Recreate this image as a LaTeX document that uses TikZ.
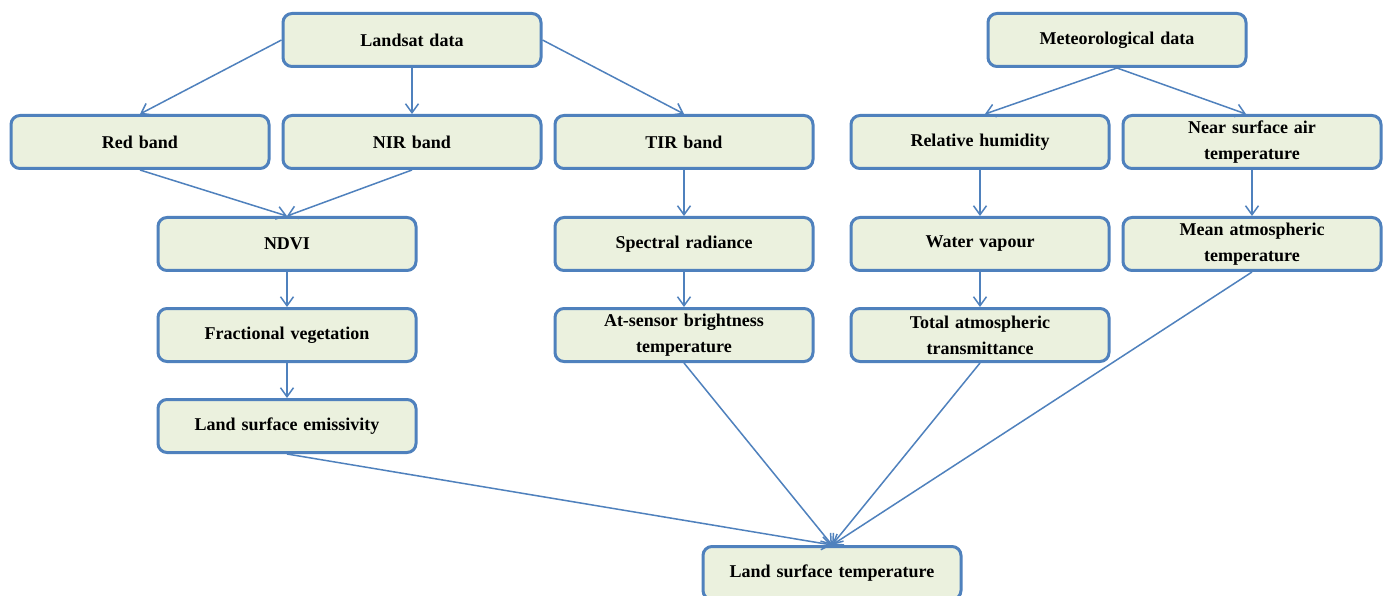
\documentclass[tikz,border=0pt]{standalone}
\usepackage{fontspec}
\setmainfont{Liberation Serif}
\usetikzlibrary{arrows.meta}
\definecolor{bordc}{HTML}{4F81BD}
\definecolor{boxfill}{HTML}{EBF1DE}
\tikzset{
  procbox/.style={draw=bordc, fill=boxfill, line width=3pt, rounded corners=9pt,
    minimum width=258pt, minimum height=53pt, inner sep=2pt, align=center,
    font=\fontsize{18}{26}\selectfont\bfseries, text width=250pt},
  flow/.style={draw=bordc, line width=1.5pt, -{Straight Barb[length=9pt,width=13pt,line width=1.5pt]}}
}
\begin{document}
\begin{tikzpicture}[x=1pt,y=-1pt]
\clip (0,0) rectangle (1390,596);
\fill[white] (0,0) rectangle (1390,596);
\node[procbox] (landsat) at (412,40) {Landsat data};
\node[procbox] (meteo) at (1117,40) {Meteorological data};
\node[procbox] (red) at (140,142) {Red band};
\node[procbox] (nir) at (412,142) {NIR band};
\node[procbox] (tir) at (684,142) {TIR band};
\node[procbox] (rh) at (980,142) {Relative humidity};
\node[procbox] (nsat) at (1252,142) {Near surface air\\temperature};
\node[procbox] (ndvi) at (287,244) {NDVI};
\node[procbox] (spec) at (684,244) {Spectral radiance};
\node[procbox] (wv) at (980,244) {Water vapour};
\node[procbox] (mat) at (1252,244) {Mean atmospheric\\temperature};
\node[procbox] (fv) at (287,335) {Fractional vegetation};
\node[procbox] (abt) at (684,335) {At-sensor brightness\\temperature};
\node[procbox] (tat) at (980,335) {Total atmospheric\\transmittance};
\node[procbox] (lse) at (287,426) {Land surface emissivity};
\node[procbox] (lst) at (832,573) {Land surface temperature};

\draw[flow] (landsat.west) -- (red.north);
\draw[flow] (landsat.south) -- (nir.north);
\draw[flow] (landsat.east) -- (tir.north);
\draw[flow] (meteo.south) -- ([xshift=5pt]rh.north);
\draw[flow] (meteo.south) -- ([xshift=-6pt]nsat.north);
\draw[flow] (red.south) -- (ndvi.north);
\draw[flow] (nir.south) -- (ndvi.north);
\draw[flow] (tir.south) -- (spec.north);
\draw[flow] (spec.south) -- (abt.north);
\draw[flow] (rh.south) -- (wv.north);
\draw[flow] (wv.south) -- (tat.north);
\draw[flow] (nsat.south) -- (mat.north);
\draw[flow] (ndvi.south) -- (fv.north);
\draw[flow] (fv.south) -- (lse.north);
\draw[flow] (lse.south) -- (lst.north);
\draw[flow] (abt.south) -- (lst.north);
\draw[flow] (tat.south) -- (lst.north);
\draw[flow] (mat.south) -- (lst.north);
\end{tikzpicture}
\end{document}
